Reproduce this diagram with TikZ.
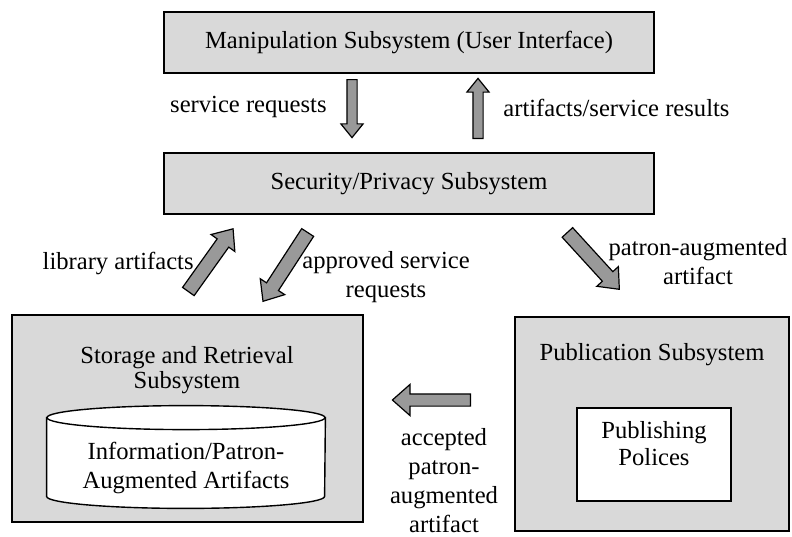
\documentclass[tikz,border=0pt]{standalone}
\usepackage{fontspec}
\setmainfont{Liberation Serif}
\usetikzlibrary{shapes.arrows, positioning}
\definecolor{boxgray}{gray}{0.85}
\definecolor{arrowgray}{gray}{0.6}
\tikzstyle{subsys} = [
    rectangle,
    minimum width=245pt,
    minimum height=30.5pt,
    text centered,
    draw=black,
    fill=boxgray,
    line width=1pt
]
\tikzstyle{panel} = [
    rectangle,
    draw=black,
    fill=boxgray,
    line width=0.7pt
]
\tikzstyle{policybox} = [
    rectangle,
    minimum width=77pt,
    minimum height=46.5pt,
    draw=black,
    fill=white,
    line width=0.7pt
]
\tikzstyle{flowtext} = [align=center, inner sep=0pt]
\tikzstyle{blockarrow} = [
    single arrow,
    draw=black,
    fill=arrowgray,
    inner xsep=0pt,
    line width=0.6pt,
    anchor=tail
]
\tikzstyle{thinarrow} = [blockarrow, inner ysep=2.25pt, single arrow head extend=3pt, single arrow tip angle=78]
\tikzstyle{fatarrow} = [blockarrow, inner ysep=3.25pt, single arrow head extend=3.75pt, single arrow tip angle=80]

\begin{document}
\begin{tikzpicture}[x=0.5pt, y=-0.5pt, node distance=70.5pt, font=\fontsize{12.3}{14.5}\selectfont]
\useasboundingbox (0,0) rectangle (792,536);

% Nodes
\node (manip) [subsys] at (409,42.5) {Manipulation Subsystem (User Interface)};
\node (security) [subsys, below of=manip] {Security/Privacy Subsystem};
\node (storage) [panel, minimum width=175.5pt, minimum height=103.5pt] at (187.5,418.5) {};
\node (publication) [panel, minimum width=137pt, minimum height=107pt] at (652,424) {};
\node (storagetxt) [flowtext, font=\fontsize{12.3}{12.8}\selectfont] at (187,370) {Storage and Retrieval\\Subsystem};
\node (pubtxt) [flowtext] at (652,355) {Publication Subsystem};
\node (policies) [policybox] at (654,454.5) {};
\node (policiestxt) [flowtext, font=\fontsize{12.3}{13.5}\selectfont] at (654,443.5) {Publishing\\Polices};

% Database
\node (archive) [rectangle, minimum width=139pt, minimum height=39pt, inner sep=0pt] at (186,457) {};
\draw [fill=white, line width=0.7pt] (archive.north west) -- (archive.south west)
    arc [start angle=180, end angle=360, x radius=69.5pt, y radius=6pt]
    -- (archive.north east) -- cycle;
\draw [fill=white, line width=0.7pt] (archive.north) ellipse [x radius=69.5pt, y radius=6pt];
\node (archivetxt) [flowtext] at (186,467.5) {Information/Patron-\\Augmented Artifacts};

% Arrows
\node (reqdown) [thinarrow, minimum height=29pt, rotate=-90] at (352,79) {};
\node (resup) [thinarrow, minimum height=30pt, rotate=90] at (478,139) {};
\node (libup) [fatarrow, minimum height=38.5pt, rotate=54.5] at (188,292) {};
\node (appdown) [fatarrow, minimum height=41pt, rotate=-123] at (308,232) {};
\node (patdown) [fatarrow, minimum height=38.5pt, rotate=-47.6] at (567,232) {};
\node (accleft) [blockarrow, inner ysep=2.75pt, single arrow head extend=4.75pt, single arrow tip angle=83, minimum height=39pt, rotate=180] at (471,400) {};

% Labels
\node (svcreq) [flowtext, anchor=east] at (327,107) {service requests};
\node (results) [flowtext, anchor=west] at (503,108) {artifacts/service results};
\node (libart) [flowtext, anchor=east] at (194,263) {library artifacts};
\node (approved) [flowtext] at (386,277) {approved service\\requests};
\node (patron) [flowtext] at (698,262) {patron-augmented\\artifact};
\node (accepted) [flowtext] at (444,481) {accepted\\patron-\\augmented\\artifact};

\end{tikzpicture}
\end{document}
